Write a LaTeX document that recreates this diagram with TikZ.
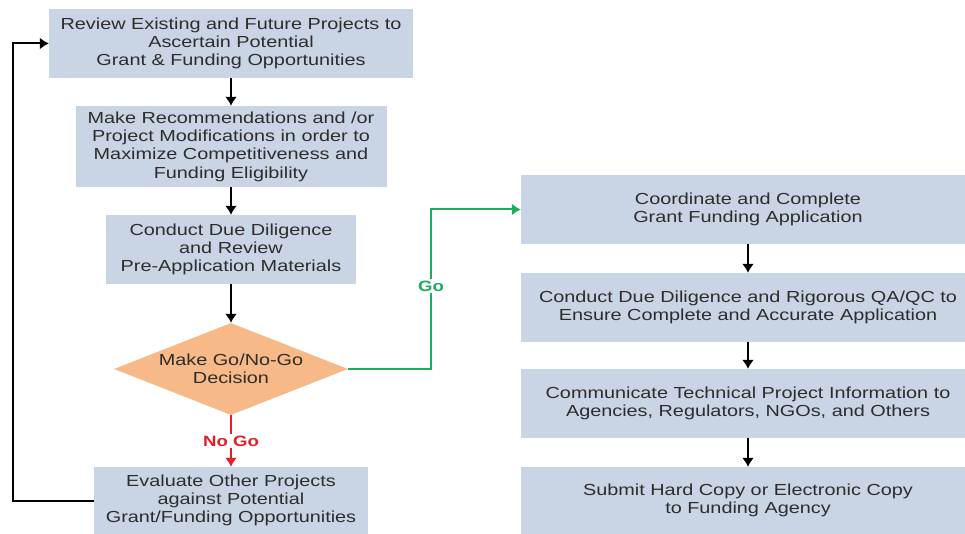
\documentclass[tikz,border=0pt]{standalone}
\usepackage{fontspec}
\setmainfont[FakeStretch=1.24]{Liberation Sans}
\usetikzlibrary{shapes.geometric,arrows.meta}
\definecolor{boxfill}{RGB}{201,213,228}
\definecolor{diafill}{RGB}{247,185,136}
\definecolor{txt}{RGB}{45,45,45}
\definecolor{gogreen}{RGB}{30,170,95}
\definecolor{nogored}{RGB}{230,30,40}
\tikzset{
  stepbox/.style={rectangle, fill=boxfill, draw=none, inner sep=0pt, align=center, text=txt,
    font=\fontsize{16pt}{18.3pt}\selectfont},
  decide/.style={diamond, aspect=2.54, fill=diafill, draw=none, inner sep=0pt, align=center, text=txt,
    minimum width=234pt, minimum height=92pt, font=\fontsize{16pt}{18.3pt}\selectfont},
  arr/.style={line width=2pt, -{Latex[length=9pt,width=12pt]}},
  goarr/.style={line width=2pt, draw=gogreen, -{Latex[length=9pt,width=12pt]}},
  noarr/.style={line width=2pt, draw=nogored, -{Latex[length=9pt,width=12pt]}},
  lbl/.style={fill=white, inner sep=2pt, font=\bfseries\fontsize{15pt}{17pt}\selectfont}
}
\begin{document}
\begin{tikzpicture}[x=1pt,y=-1pt]
\useasboundingbox (0,0) rectangle (965,534);
% left column
\node[stepbox, minimum width=364pt, minimum height=69pt] (b1) at (231,43.5)
  {Review Existing and Future Projects to\\Ascertain Potential\\Grant \& Funding Opportunities};
\node[stepbox, minimum width=311pt, minimum height=81pt] (b2) at (231,146.5)
  {Make Recommendations and /or\\Project Modifications in order to\\Maximize Competitiveness and\\Funding Eligibility};
\node[stepbox, minimum width=250pt, minimum height=69pt] (b3) at (231,249.5)
  {Conduct Due Diligence\\and Review\\Pre-Application Materials};
\node[decide] (dm) at (231,369) {Make Go/No-Go\\Decision};
\node[stepbox, minimum width=274pt, minimum height=67pt] (b5) at (231,500.5)
  {Evaluate Other Projects\\against Potential\\Grant/Funding Opportunities};
% right column
\node[stepbox, minimum width=454pt, minimum height=69pt] (ra) at (748,209.5)
  {Coordinate and Complete\\Grant Funding Application};
\node[stepbox, minimum width=454pt, minimum height=69pt] (rb) at (748,307.5)
  {Conduct Due Diligence and Rigorous QA/QC to\\Ensure Complete and Accurate Application};
\node[stepbox, minimum width=454pt, minimum height=69pt] (rc) at (748,403.5)
  {Communicate Technical Project Information to\\Agencies, Regulators, NGOs, and Others};
\node[stepbox, minimum width=454pt, minimum height=67pt] (rd) at (748,500.5)
  {Submit Hard Copy or Electronic Copy\\to Funding Agency};
% left arrows
\draw[arr] (b1) -- (b2);
\draw[arr] (b2) -- (b3);
\draw[arr] (b3) -- (dm);
% no go
\draw[noarr] (dm.south) -- (b5.north);
\node[lbl, text=nogored] (nogo) at (231,441) {No Go};
% go
\coordinate (gc) at (431,369);
\draw[goarr] (dm.east) -- (gc) |- (ra.west);
\node[lbl, text=gogreen] (go) at (431,286) {Go};
% feedback
\coordinate (fb) at (13,500.5);
\draw[arr] (b5.west) -- (fb) |- (b1.west);
% right arrows
\draw[arr] (ra) -- (rb);
\draw[arr] (rb) -- (rc);
\draw[arr] (rc) -- (rd);
\end{tikzpicture}
\end{document}
